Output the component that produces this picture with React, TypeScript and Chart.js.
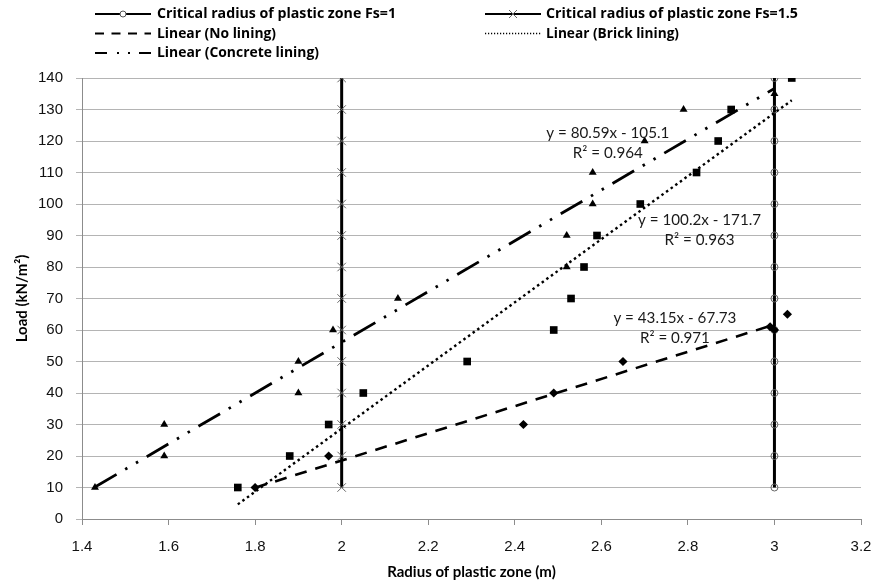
import React, { useEffect, useRef } from "react";
import { Chart, registerables } from "chart.js";

Chart.register(...registerables);

// ---- Data ----
const noLiningX = [1.8, 1.97, 2.42, 2.49, 2.65, 2.99, 3.0, 3.03];
const noLiningY = [10, 20, 30, 40, 50, 61, 60, 65];

const brickX = [1.76, 1.88, 1.97, 2.05, 2.29, 2.49, 2.53, 2.56, 2.59, 2.69, 2.82, 2.87, 2.9, 3.04];
const brickY = [10, 20, 30, 40, 50, 60, 70, 80, 90, 100, 110, 120, 130, 140];

const concreteX = [1.43, 1.59, 1.59, 1.9, 1.9, 1.98, 2.13, 2.52, 2.52, 2.58, 2.58, 2.7, 2.79, 3.0];
const concreteY = [10, 20, 30, 40, 50, 60, 70, 80, 90, 100, 110, 120, 130, 135];

const criticalLoads = [10, 20, 30, 40, 50, 60, 70, 80, 90, 100, 110, 120, 130, 140];
const criticalFs1X = 3;
const criticalFs15X = 2;

const trendNames = ["Linear (No lining)", "Linear (Brick lining)", "Linear (Concrete lining)"];
const trendSlope = [43.15, 100.2, 80.59];
const trendIntercept = [-67.73, -171.7, -105.1];
const trendR2 = ["0.971", "0.963", "0.964"];
const trendXStart = [1.8, 1.76, 1.43];
const trendXEnd = [3.0, 3.04, 3.0];

const xTitle = "Radius of plastic zone (m)";
const yTitle = "Load (kN/m\u00B2)";

// ---- Helpers ----
const trendPoints = (i: number) =>
  [trendXStart[i], trendXEnd[i]].map((x) => ({ x, y: trendSlope[i] * x + trendIntercept[i] }));

const zip = (xs: number[], ys: number[]) => xs.map((x, i) => ({ x, y: ys[i] }));

const equationText = (i: number) =>
  `y = ${trendSlope[i]}x ${trendIntercept[i] < 0 ? "-" : "+"} ${Math.abs(trendIntercept[i])}`;

// label anchor positions (data coordinates)
const eqPos = [
  { x: 2.77, y: 63.8, ry: 57.5 },
  { x: 2.827, y: 94.9, ry: 88.6 },
  { x: 2.615, y: 122.5, ry: 116.2 },
];

const trendDash = [
  [12, 9],
  [2.5, 3.2],
  [25, 10, 2.5, 10, 2.5, 10],
];
const trendWidth = [2.6, 2.4, 2.8];

// draw text fitted to a target width (horizontal scaling)
function fitText(ctx: CanvasRenderingContext2D, text: string, x: number, y: number, target: number, align: "left" | "center") {
  const w = ctx.measureText(text).width;
  const s = target / w;
  ctx.save();
  ctx.translate(x, y);
  ctx.scale(s, 1);
  ctx.textAlign = align;
  ctx.fillText(text, 0, 0);
  ctx.restore();
}

const annotationPlugin = {
  id: "eqLabels",
  afterDatasetsDraw(chart: any) {
    const { ctx, scales } = chart;
    ctx.save();
    ctx.font = "15px Lato, sans-serif";
    ctx.fillStyle = "#1a1a1a";
    ctx.textBaseline = "middle";
    eqPos.forEach((p, i) => {
      const px = scales.x.getPixelForValue(p.x);
      fitText(ctx, equationText(i), px, scales.y.getPixelForValue(p.y), 123, "center");
      fitText(ctx, `R\u00B2 = ${trendR2[i]}`, px, scales.y.getPixelForValue(p.ry), 70, "center");
    });
    ctx.restore();
  },
};

const legendPlugin = {
  id: "customLegend",
  afterDraw(chart: any) {
    const ctx = chart.ctx;
    const items = [
      { col: 0, row: 0, text: "Critical radius of plastic zone Fs=1", dash: [], marker: "circle", w: 239 },
      { col: 1, row: 0, text: "Critical radius of plastic zone Fs=1.5", dash: [], marker: "cross", w: 252 },
      { col: 0, row: 1, text: trendNames[0], dash: [9, 7.5], marker: "", w: 119 },
      { col: 1, row: 1, text: trendNames[1], dash: [1.2, 1.8], marker: "", w: 133 },
      { col: 0, row: 2, text: trendNames[2], dash: [12, 10, 2, 9, 2, 9], marker: "", w: 162 },
    ];
    const colLine = [95, 485];
    const colText = [157, 546];
    const rowY = [14, 33.5, 53];
    ctx.save();
    items.forEach((it) => {
      const y = rowY[it.row];
      const x0 = colLine[it.col];
      const x1 = x0 + 56;
      ctx.beginPath();
      ctx.setLineDash(it.dash);
      ctx.lineWidth = it.col === 1 && it.row === 1 ? 1.3 : 2;
      ctx.strokeStyle = "#000";
      ctx.lineCap = "butt";
      ctx.moveTo(x0, y);
      ctx.lineTo(x1, y);
      ctx.stroke();
      ctx.setLineDash([]);
      const cx = (x0 + x1) / 2;
      if (it.marker === "circle") {
        ctx.beginPath();
        ctx.arc(cx, y, 3, 0, Math.PI * 2);
        ctx.fillStyle = "#fff";
        ctx.fill();
        ctx.lineWidth = 1;
        ctx.strokeStyle = "#555";
        ctx.stroke();
      } else if (it.marker === "cross") {
        ctx.beginPath();
        ctx.lineWidth = 1;
        ctx.strokeStyle = "#666";
        ctx.moveTo(cx - 4, y - 4);
        ctx.lineTo(cx + 4, y + 4);
        ctx.moveTo(cx + 4, y - 4);
        ctx.lineTo(cx - 4, y + 4);
        ctx.stroke();
      }
      ctx.font = "bold 14px 'Open Sans', sans-serif";
      ctx.fillStyle = "#000";
      ctx.textBaseline = "middle";
      fitText(ctx, it.text, colText[it.col], y + 0.5, it.w, "left");
    });
    ctx.restore();
  },
};

export default function App() {
  const ref = useRef<HTMLCanvasElement>(null);

  useEffect(() => {
    document.body.style.margin = "0";
    const canvas = ref.current;
    if (!canvas) return;

    const tickFont = { family: "'Liberation Sans', Arial, sans-serif", size: 15 };
    const titleFont = { family: "Lato, sans-serif", size: 15, weight: "bold" as const };

    const markerBase = {
      showLine: false,
      backgroundColor: "#000",
      borderColor: "#000",
      borderWidth: 0,
      order: 0,
    };

    const datasets: any[] = [
      { ...markerBase, label: "No lining", data: zip(noLiningX, noLiningY), pointStyle: "rectRot", pointRadius: 4.6 },
      { ...markerBase, label: "Brick lining", data: zip(brickX, brickY), pointStyle: "rect", pointRadius: 5.4 },
      { ...markerBase, label: "Concrete lining", data: zip(concreteX, concreteY), pointStyle: "triangle", pointRadius: 4.6 },
      ...trendNames.map((name, i) => ({
        label: name,
        data: trendPoints(i),
        showLine: true,
        pointRadius: 0,
        borderColor: "#000",
        borderWidth: trendWidth[i],
        borderDash: trendDash[i],
        borderCapStyle: "butt",
        order: 1,
      })),
      {
        label: "Critical radius of plastic zone Fs=1",
        data: criticalLoads.map((y) => ({ x: criticalFs1X, y })),
        showLine: true,
        borderColor: "#000",
        borderWidth: 3,
        pointStyle: "circle",
        pointRadius: 3.5,
        pointBackgroundColor: "rgba(255,255,255,0)",
        pointBorderColor: "#666",
        pointBorderWidth: 1,
        order: 2,
      },
      {
        label: "Critical radius of plastic zone Fs=1.5",
        data: criticalLoads.map((y) => ({ x: criticalFs15X, y })),
        showLine: true,
        borderColor: "#000",
        borderWidth: 3,
        pointStyle: "crossRot",
        pointRadius: 6,
        pointBorderColor: "#666",
        pointBorderWidth: 1,
        order: 2,
      },
    ];

    const chart = new Chart(canvas, {
      type: "scatter",
      data: { datasets },
      options: {
        animation: false,
        responsive: false,
        maintainAspectRatio: false,
        events: [],
        layout: { padding: { top: 78, right: 11, left: 0, bottom: 0 } },
        plugins: { legend: { display: false }, tooltip: { enabled: false } },
        scales: {
          x: {
            type: "linear",
            min: 1.4,
            max: 3.2,
            afterFit: (s: any) => {
              s.height = 66;
              s.paddingLeft = 0;
              s.paddingRight = 0;
            },
            ticks: {
              stepSize: 0.2,
              font: tickFont,
              color: "#111",
              padding: 13,
              maxRotation: 0,
              callback: (v: any) => String(Math.round(Number(v) * 10) / 10),
            },
            grid: { drawOnChartArea: false, tickLength: 6, color: "#8c8c8c" },
            border: { color: "#8c8c8c", width: 1 },
            title: { display: true, text: xTitle, font: titleFont, color: "#000", padding: { top: 0, bottom: 4 } },
          },
          y: {
            type: "linear",
            min: 0,
            max: 140,
            afterFit: (s: any) => {
              s.width = 82;
              s.paddingTop = 0;
              s.paddingBottom = 0;
            },
            ticks: { stepSize: 10, font: tickFont, color: "#111", padding: 13 },
            grid: { color: "#b4b4b4", tickLength: 6, lineWidth: 1 },
            border: { color: "#8c8c8c", width: 1 },
            title: { display: true, text: yTitle, font: titleFont, color: "#000", padding: { top: 13, bottom: 0 } },
          },
        },
      } as any,
      plugins: [annotationPlugin, legendPlugin],
    });

    return () => chart.destroy();
  }, []);

  return (
    <div style={{ width: 872, height: 585 }}>
      <canvas ref={ref} width={872} height={585} style={{ display: "block", width: 872, height: 585 }} />
    </div>
  );
}
